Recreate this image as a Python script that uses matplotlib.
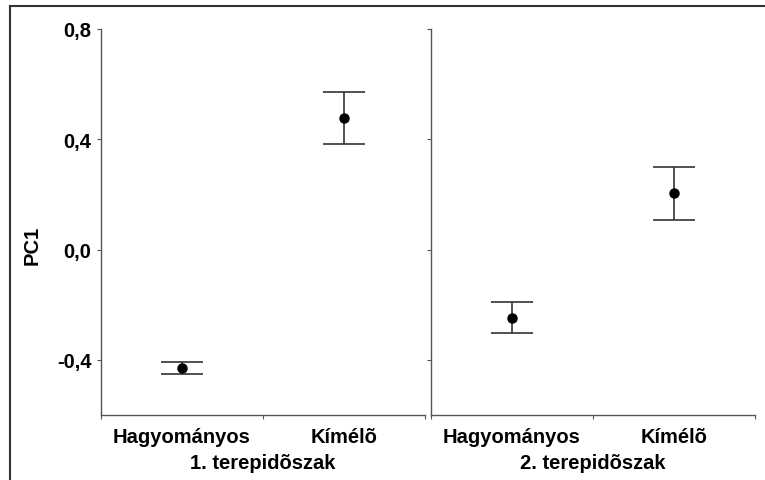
import matplotlib.pyplot as plt
from matplotlib.lines import Line2D

plt.rcParams['font.family'] = ['Liberation Sans', 'DejaVu Sans']
plt.rcParams['font.weight'] = 'bold'

# adatok a két terepidőszakra
groups = ["1. terepidõszak", "2. terepidõszak"]
categories = ["Hagyományos", "Kímélõ"]
means = [[-0.43, 0.476], [-0.248, 0.204]]
lower = [[-0.450, 0.382], [-0.304, 0.108]]
upper = [[-0.407, 0.570], [-0.191, 0.298]]
yticks = [-0.4, 0.0, 0.4, 0.8]
yticklabels = ["-0,4", "0,0", "0,4", "0,8"]

W, H = 765, 481
fig = plt.figure(figsize=(W / 100, H / 100), dpi=100)

fs = 14.5
axis_col = '#555555'
lefts = [101, 431]
for i, left in enumerate(lefts):
    ax = fig.add_axes([left / W, (H - 416) / H, 324 / W, 386 / H])
    xs = [0.5, 1.5]
    m = means[i]
    err_lo = [m[j] - lower[i][j] for j in range(2)]
    err_hi = [upper[i][j] - m[j] for j in range(2)]
    ax.errorbar(xs, m, yerr=[err_lo, err_hi], fmt='o', color='black',
                ecolor='#333333', elinewidth=1.2, capsize=15, capthick=1.2,
                markersize=6.5)
    ax.set_xlim(0, 2)
    ax.set_ylim(-0.6, 0.8)
    for s in ['top', 'right']:
        ax.spines[s].set_visible(False)
    for s in ['left', 'bottom']:
        ax.spines[s].set_color(axis_col)
        ax.spines[s].set_linewidth(1.0)
    ax.set_xticks([0, 1, 2])
    ax.set_xticklabels([])
    ax.set_xticks(xs, categories, minor=True)
    ax.tick_params(axis='x', which='major', length=3, color=axis_col, direction='out')
    ax.tick_params(axis='x', which='minor', length=0, pad=9, labelsize=fs)
    ax.set_yticks(yticks)
    ax.tick_params(axis='y', length=3, color=axis_col, direction='out', labelsize=fs, pad=4)
    if i == 0:
        ax.set_yticklabels(yticklabels)
    else:
        ax.set_yticklabels([])
    ax.text(0.5, -0.122, groups[i], transform=ax.transAxes, ha='center',
            va='center', fontsize=fs, fontweight='bold')

fig.text(32 / W, 1 - 245 / H, "PC1", rotation=90, ha='center', va='center',
         fontsize=fs, fontweight='bold')

# keret a bal és felső oldalon
fig.add_artist(Line2D([10 / W, 10 / W], [0, 1 - 7 / H], color='#333333', lw=1.5))
fig.add_artist(Line2D([10 / W, 1], [1 - 7 / H, 1 - 7 / H], color='#333333', lw=1.5))

fig.savefig('out.png', dpi=100)
